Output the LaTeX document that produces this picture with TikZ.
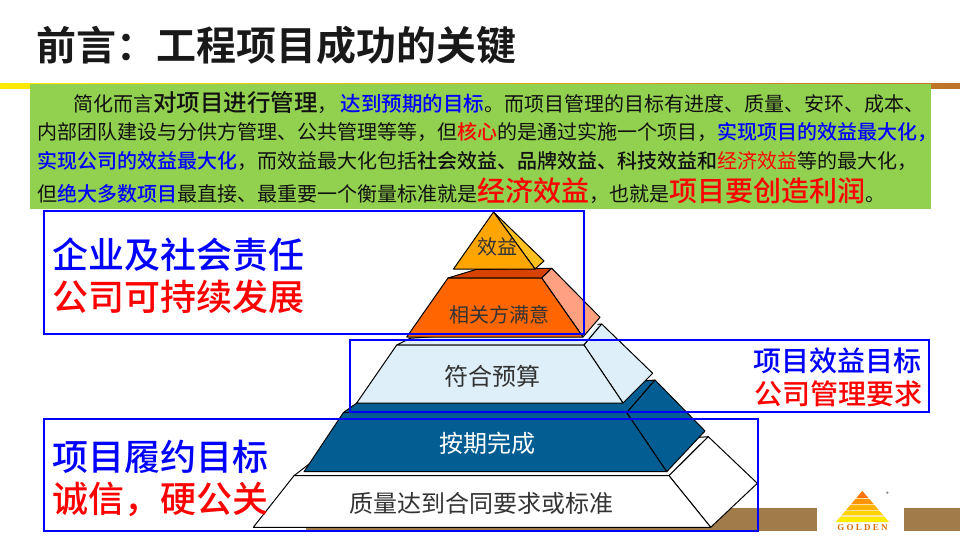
\documentclass[tikz,border=0pt]{standalone}
\usepackage{fontspec}
\setmainfont{Noto Sans CJK SC}[BoldFont={Noto Sans CJK SC Medium}]
\newfontfamily\titlefont{Noto Sans CJK SC Bold}
\newfontfamily\logofont[LetterSpace=25]{Liberation Serif}
\newcommand{\fsz}[1]{\fontsize{#1}{#1}\selectfont}
\definecolor{bgreen}{HTML}{92D050}
\definecolor{bblue}{HTML}{0000FF}
\definecolor{bred}{HTML}{FF0000}
\definecolor{bbrown}{HTML}{A07C4A}
\definecolor{ink}{HTML}{111111}
\newcommand{\B}[1]{{\bfseries\color{bblue}#1}}
\newcommand{\R}[1]{{\bfseries\color{bred}#1}}
\newcommand{\K}[1]{{\bfseries #1}}
\tikzset{
  txt/.style={inner sep=0pt,outer sep=0pt,text=ink,anchor=west,font=\fsz{20}},
  big/.style={inner sep=0pt,anchor=west,font=\fsz{36}\bfseries},
  mid/.style={inner sep=0pt,anchor=west,font=\fsz{28}\bfseries},
  lev/.style={inner sep=0pt,text=black!80,font=\fsz{24}},
  levs/.style={inner sep=0pt,text=black!80,font=\fsz{20}},
  face/.style={draw=black,line width=1pt,line join=round},
  frame/.style={draw=bblue,line width=2pt},
}
\begin{document}
\begin{tikzpicture}[x=1pt,y=-1pt]
\useasboundingbox (0,0) rectangle (960,540);
\fill[white] (0,0) rectangle (960,540);
% title
\node[inner sep=0pt,anchor=west,font=\fsz{40}\titlefont,text=black!90] (title) at (36,45) {前言：工程项目成功的关键};
% header band
\shade[left color=yellow!85!orange,middle color=orange!55!white!85!brown,right color=brown!70!orange!90!black] (0,83.5) rectangle (960,88.5);
% bottom bars
\fill[bbrown] (306,508) rectangle (817,531);
\fill[bbrown] (904,508) rectangle (960,531);
% logo
\begin{scope}
\clip (862.3,491) -- (889,522) -- (836,522) -- cycle;
\fill[yellow!40!orange!35!white] (830,490) rectangle (895,523);
\fill[orange!90!red] (830,490) rectangle (895,498);
\fill[orange!85!yellow] (830,499) rectangle (895,503.5);
\fill[orange!60!yellow] (830,505) rectangle (895,509.5);
\fill[orange!35!yellow] (830,511) rectangle (895,515);
\fill[yellow!95!orange] (830,516.5) rectangle (895,523);
\end{scope}
\node[inner sep=0pt,font=\fsz{9}\logofont\bfseries,text=orange!85!black] (logotext) at (862.5,528) {GOLDEN};
\fill[black!45] (887.3,492.7) circle (1.3);
% green box
\fill[bgreen] (29.5,84.5) rectangle (931,208.5);
\node[txt] (l1) at (73,103) {简化而言{\K{\fsz{23.5}对项目进行管理}}，\kern3pt\B{\fsz{20.5}达到预期的目标}。而项目管理的目标有进度、质量、安环、成本、};
\node[txt] (l2) at (37,132) {内部团队建设与分供方管理、公共管理等等，但\R{核心}的是通过实施一个项目，\B{实现项目的效益最大化，}};
\node[txt] (l3) at (37,161) {\B{实现公司的效益最大化}，而效益最大化包括\K{社会效益、品牌效益、科技效益和}{\color{bred}经济效益}等的最大化，};
\node[txt] (l4) at (37,191) {但\B{绝大多数项目}最直接、最重要一个衡量标准就是{\R{\fsz{28}经济效益}}，也就是{\R{\fsz{28}项目要创造利润}}。};
% level 5
\draw[face,fill=white] (294,475.7) -- (310,463.3) -- (708.3,436.7) -- (669,475.7) -- cycle;
\draw[face,fill=white] (669,475.7) -- (708.3,436.7) -- (757.3,483.3) -- (710.7,527.3) -- cycle;
\draw[face,fill=white] (294,475.7) -- (669,475.7) -- (710.7,527.3) -- (253.3,527.3) -- cycle;
% level 4
\definecolor{lv4}{HTML}{025E92}
\draw[face,fill=lv4] (343.3,412.7) -- (356.7,403) -- (655,380) -- (626.7,412.7) -- cycle;
\draw[face,fill=lv4] (626.7,412.7) -- (655,380) -- (705,431) -- (666.7,471.7) -- cycle;
\draw[face,fill=lv4] (343.3,412.7) -- (626.7,412.7) -- (666.7,471.7) -- (304,471.7) -- cycle;
% level 3
\definecolor{lv3}{HTML}{DEEFF9}
\draw[face,fill=lv3] (396.7,345) -- (410,338.3) -- (601.7,324) -- (584,345) -- cycle;
\draw[face,fill=lv3] (584,345) -- (601.7,324) -- (652.7,373.3) -- (623,403) -- cycle;
\draw[face,fill=lv3] (396.7,345) -- (584,345) -- (623,403) -- (356.7,403) -- cycle;
% level 2
\draw[face,fill=orange!60!red!85!black] (448,278) -- (476,269.5) -- (551.7,268.3) -- (541.7,278) -- cycle;
\fill[white] (576,338) -- (596,320) -- (601,320) -- (586,338.5) -- cycle;
\draw[face,fill={rgb,255:red,255;green,160;blue,128}] (541.7,278) -- (551.7,268.3) -- (600,317.3) -- (583,337) -- cycle;
\draw[face,fill={rgb,255:red,255;green,102;blue,0}] (448,278) -- (541.7,278) -- (583,337) -- (406.7,337) -- cycle;
% level 1
\draw[face,fill={rgb,255:red,255;green,192;blue,32}] (493.5,212) -- (544,261) -- (535,269) -- cycle;
\draw[face,fill={rgb,255:red,255;green,165;blue,0}] (493.5,212) -- (535,269) -- (453.5,269) -- cycle;
% level labels
\node[levs] (t1) at (497,247) {效益};
\node[levs] (t2) at (499,315) {相关方满意};
\node[lev] (t3) at (492,376) {符合预算};
\node[lev,text=white] (t4) at (487,443) {按期完成};
\node[lev] (t5) at (481,503) {质量达到合同要求或标准};
% frames
\draw[frame] (44,211) rectangle (584,334);
\draw[frame] (350,340) rectangle (929,411.7);
\draw[frame] (44,419) rectangle (758,531);
% side labels
\node[big,text=bblue] (a1) at (52,255) {企业及社会责任};
\node[big,text=bred] (a2) at (52,297) {公司可持续发展};
\node[mid,text=bblue] (b1) at (753,361) {项目效益目标};
\node[mid,text=bred] (b2) at (754,394) {公司管理要求};
\node[big,text=bblue] (c1) at (52,457) {项目履约目标};
\node[big,text=bred] (c2) at (52,499) {诚信，硬公关};
\end{tikzpicture}
\end{document}
